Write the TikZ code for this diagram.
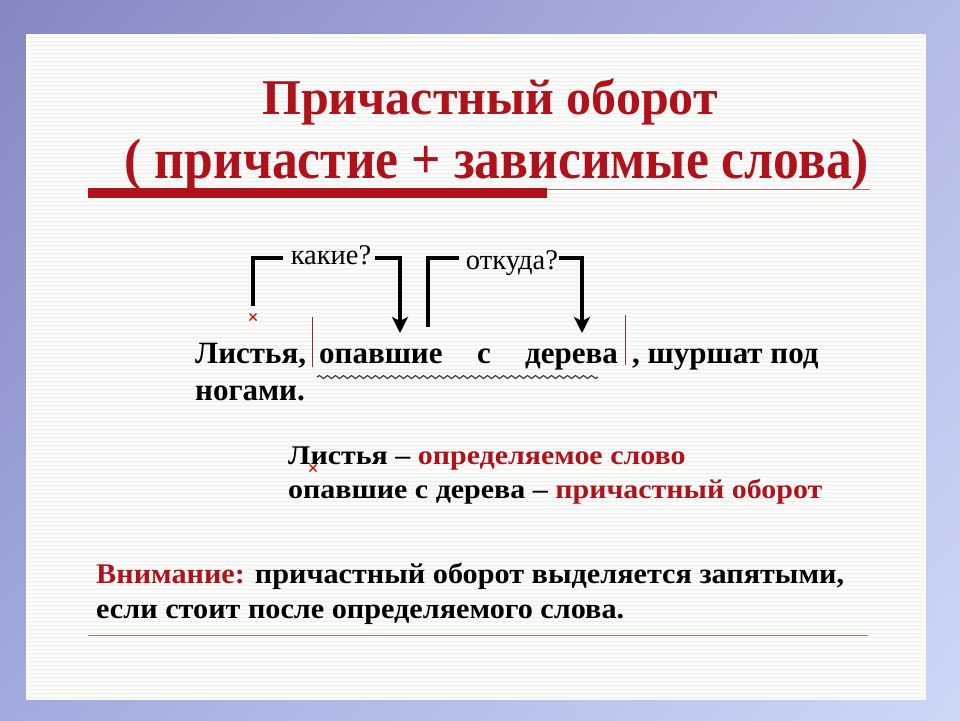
\documentclass[tikz,border=0pt]{standalone}
\usepackage{fontspec}
\setmainfont{Liberation Serif}
\newfontfamily\narrowserif[FakeStretch=0.905]{Liberation Serif}
\newfontfamily\wideserif[FakeStretch=1.11]{Liberation Serif}
\newfontfamily\attnserif[FakeStretch=1.06]{Liberation Serif}
\usetikzlibrary{decorations.pathmorphing,arrows.meta,shadings}
\definecolor{bgA}{HTML}{8488C2}
\definecolor{bgB}{HTML}{B2BAE6}
\definecolor{bgC}{HTML}{A2AADE}
\definecolor{bgD}{HTML}{CDD7F8}
\definecolor{panel}{HTML}{FBFBF9}
\definecolor{stripe}{HTML}{EEEEEE}
\definecolor{ttlred}{HTML}{B0121C}
\definecolor{thinred}{HTML}{B07070}
\definecolor{barred}{HTML}{8A3030}
\tikzset{
  titleone/.style={font=\fontsize{50}{52}\selectfont\bfseries, text=ttlred, inner sep=0pt, anchor=base},
  titletwo/.style={font=\narrowserif\fontsize{57}{60}\selectfont\bfseries, text=ttlred, inner sep=0pt, anchor=base},
  wordtext/.style={font=\fontsize{31}{33}\selectfont\bfseries, inner sep=0pt, anchor=base west},
  qtext/.style={font=\fontsize{28.5}{30}\selectfont, inner sep=0pt},
  deftext/.style={font=\wideserif\fontsize{27}{29}\selectfont\bfseries, inner sep=0pt, anchor=base west},
  attntext/.style={font=\attnserif\fontsize{28.5}{30}\selectfont\bfseries, inner sep=0pt, anchor=base west},
  brk/.style={line width=3.6pt, line cap=butt, line join=miter},
  arr/.style={brk, -{Stealth[length=16pt,width=16pt,inset=4pt]}},
  barline/.style={barred, line width=1pt},
  thinline/.style={thinred, line width=1pt},
  crossmark/.style={red!80!black, line width=1.1pt},
  wavy/.style={black!80, line width=1.1pt, decorate, decoration={snake, amplitude=1.5pt, segment length=8pt}}
}
\begin{document}
\begin{tikzpicture}[x=1pt,y=-1pt]
\useasboundingbox (0,0) rectangle (960,720);
\shade[upper left=bgA, upper right=bgB, lower left=bgC, lower right=bgD] (0,0) rectangle (960,720);
\fill[panel] (26,34) rectangle (926,700);
\foreach \yy in {37,41,...,698} \draw[stripe, line width=0.7pt] (28,\yy) -- (924,\yy);

% title
\node[titleone] (t1) at (490,114) {Причастный оборот};
\node[titletwo] (t2) at (497,178) {( причастие + зависимые слова)};
\fill[ttlred] (88,188) rectangle (547,198);
\draw[thinline] (547,189) -- (870,189);

% sentence
\node[wordtext] (w1) at (195,363) {Листья,};
\node[wordtext] (w2) at (319,363) {опавшие};
\node[wordtext] (w3) at (477,363) {с};
\node[wordtext] (w4) at (525,363) {дерева};
\node[wordtext] (w5) at (632,363) {, шуршат под};
\node[wordtext] (w6) at (195,400) {ногами.};

\draw[barline] (312,317) -- (312,367);
\draw[barline] (625,315) -- (625,365);
\draw[wavy] (317,377) -- (598,377);

% questions
\node[qtext] (q1) at (331,255) {какие?};
\node[qtext] (q2) at (512,263) {откуда?};
\coordinate (s1) at (253,306);
\coordinate (e1) at (400,333);
\coordinate (s2) at (428,327);
\coordinate (e2) at (582,333);
\draw[brk] (s1) |- ([xshift=-8pt]q1.west |- 0,258);
\draw[arr] ([xshift=4pt]q1.east |- 0,258) -| (e1);
\draw[brk] (s2) |- ([xshift=-7pt]q2.west |- 0,258);
\draw[arr] ([xshift=1pt]q2.east |- 0,258) -| (e2);

% crosses
\draw[crossmark] (249.5,313.5) -- (256.5,320.5) (256.5,313.5) -- (249.5,320.5);

% definitions
\node[deftext] (d1) at (288,464) {Листья – \textcolor{ttlred}{определяемое слово}};
\node[deftext] (d2) at (288,498) {опавшие с дерева – \textcolor{ttlred}{причастный оборот}};
\draw[crossmark] (309.5,464.5) -- (316.5,471.5) (316.5,464.5) -- (309.5,471.5);

% attention
\node[attntext] (a1) at (96,583) {\textcolor{ttlred}{Внимание:} причастный оборот выделяется запятыми,};
\node[attntext] (a2) at (96,618) {если стоит после определяемого слова.};
\draw[thinline] (88,635) -- (868,635);
\end{tikzpicture}
\end{document}
